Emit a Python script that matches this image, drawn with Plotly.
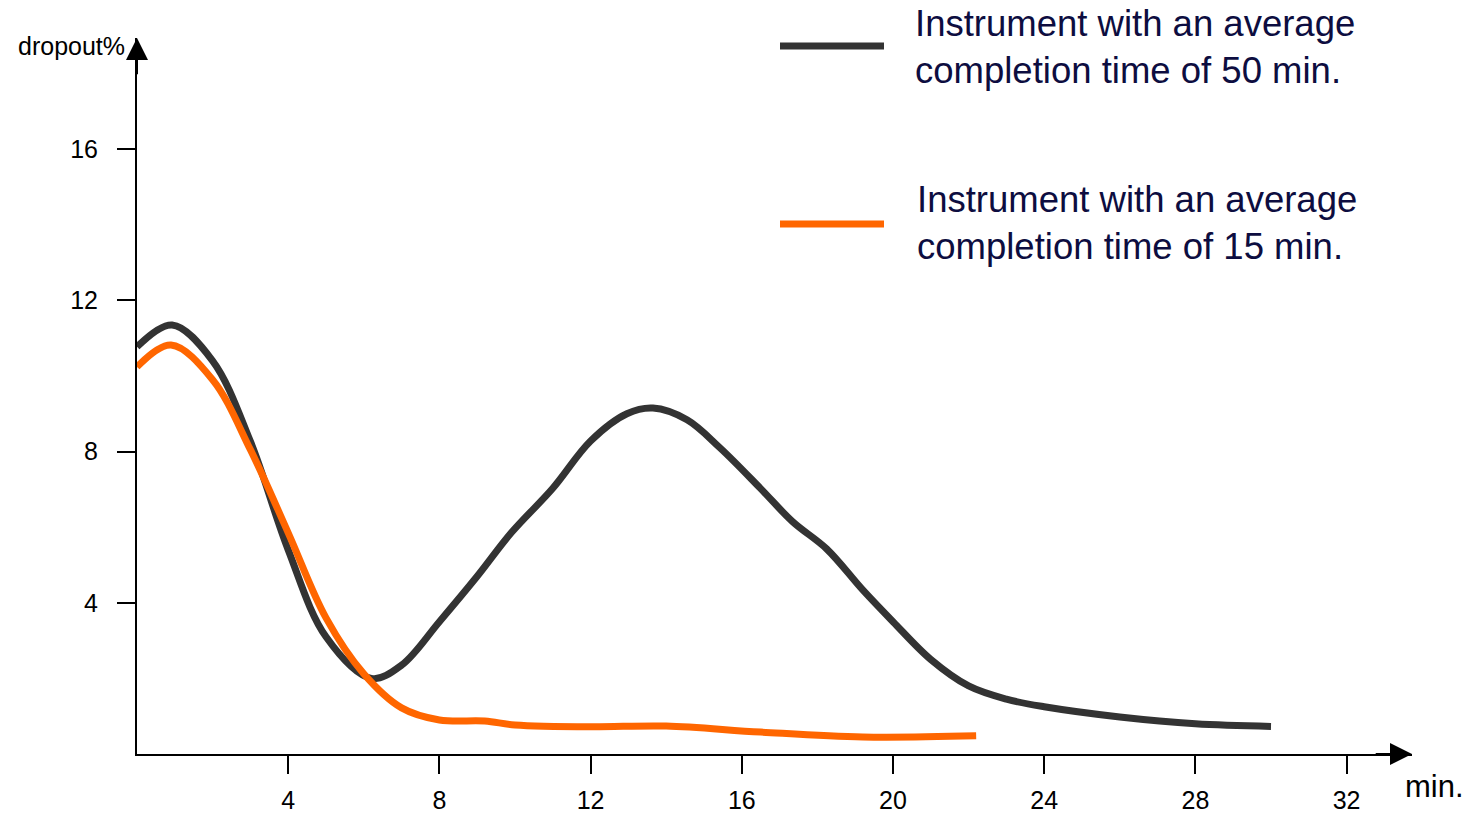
import plotly.graph_objects as go

# Data
black_x = [0, 0.93, 2.0, 3.0, 4.0, 5.0, 6.2, 7.0, 8.0, 9.0, 9.9, 11.0, 12.0, 12.96, 13.65, 14.55, 15.42,
           16.48, 17.35, 18.25, 19.2, 20.0, 21.0, 22.0, 23.0, 24.0, 26.0, 28.0, 30.0]
black_y = [10.77, 11.35, 10.4, 8.27, 5.4, 3.1, 2.0, 2.35, 3.5, 4.7, 5.85, 7.03, 8.28, 9.0, 9.15, 8.84, 8.1,
           7.04, 6.14, 5.42, 4.34, 3.5, 2.5, 1.8, 1.45, 1.25, 0.98, 0.8, 0.73]

orange_x = [0, 0.9, 2.0, 3.0, 4.0, 5.0, 6.0, 7.0, 8.0, 9.2, 10.0, 12.0, 14.0, 16.5, 19.2, 22.2]
orange_y = [10.24, 10.82, 9.9, 8.05, 5.85, 3.6, 2.12, 1.22, 0.9, 0.87, 0.77, 0.72, 0.74, 0.58, 0.45, 0.48]

x_ticks = [4, 8, 12, 16, 20, 24, 28, 32]
y_ticks = [4, 8, 12, 16]

series_names = ["Instrument with an average<br>completion time of 50 min.",
                "Instrument with an average<br>completion time of 15 min."]
colors = ["#333333", "#ff6600"]

X_MAX = 33.73
Y_MAX = 18.94
FONT = "Liberation Sans, Arial, sans-serif"

fig = go.Figure()
fig.add_trace(go.Scatter(x=black_x, y=black_y, mode="lines",
                         line=dict(color=colors[0], width=7, shape="spline", smoothing=1.0),
                         showlegend=False, name="50 min"))
fig.add_trace(go.Scatter(x=orange_x, y=orange_y, mode="lines",
                         line=dict(color=colors[1], width=7, shape="spline", smoothing=1.0),
                         showlegend=False, name="15 min"))

fig.update_layout(
    width=1470, height=815,
    margin=dict(l=137, r=58, t=38, b=61, autoexpand=False),
    paper_bgcolor="white", plot_bgcolor="white",
    font=dict(family=FONT, color="black", size=24),
    showlegend=False,
)
fig.update_xaxes(range=[0, X_MAX], showgrid=False, zeroline=False, automargin=False,
                 showline=True, linecolor="black", linewidth=2,
                 tickmode="array", tickvals=x_ticks, ticks="outside",
                 ticklen=18, tickwidth=2, tickcolor="black",
                 tickfont=dict(size=25, family=FONT, color="black"),
                 ticklabelstandoff=5)
fig.update_yaxes(range=[0, Y_MAX], showgrid=False, zeroline=False, automargin=False,
                 showline=True, linecolor="black", linewidth=2,
                 tickmode="array", tickvals=y_ticks, ticks="outside",
                 ticklen=18, tickwidth=2, tickcolor="black",
                 tickfont=dict(size=25, family=FONT, color="black"),
                 ticklabelstandoff=14)

# Axis arrowheads
fig.add_annotation(x=X_MAX, y=0, ax=X_MAX - 1.0, ay=0, xref="x", yref="y",
                   axref="x", ayref="y", text="", showarrow=True,
                   arrowhead=2, arrowsize=2.2, arrowwidth=2, arrowcolor="black", standoff=0)
fig.add_annotation(x=0, y=Y_MAX, ax=0, ay=Y_MAX - 1.0, xref="x", yref="y",
                   axref="x", ayref="y", text="", showarrow=True,
                   arrowhead=2, arrowsize=2.2, arrowwidth=2, arrowcolor="black", standoff=0)

# Axis titles
fig.add_annotation(x=127, y=815 - 46, xref="paper", yref="paper", text="dropout%",
                   showarrow=False, xanchor="right", yanchor="middle",
                   font=dict(size=25, family=FONT, color="black"))
fig.add_annotation(text="min.", showarrow=False, xanchor="left", yanchor="middle",
                   x=1403, y=815 - 786, xref="paper", yref="paper",
                   font=dict(size=31, family=FONT, color="black"))

# Custom legend
leg_y = [46, 224]
text_y = [47, 223]
for i in range(2):
    fig.add_shape(type="line", xref="paper", yref="paper",
                  x0=780, x1=884, y0=815 - leg_y[i], y1=815 - leg_y[i],
                  line=dict(color=colors[i], width=7))
    fig.add_annotation(text=series_names[i], showarrow=False, align="left",
                       xanchor="left", yanchor="middle",
                       x=913 + 2 * i, y=815 - text_y[i], xref="paper", yref="paper",
                       font=dict(size=36.5, family=FONT, color="#0d0d40"))

# convert pixel-based paper coordinates to fractions of the plot area
pw = 1470 - 137 - 58
ph = 815 - 38 - 61
for ann in fig.layout.annotations:
    if ann.xref == "paper":
        ann.x = (ann.x - 137) / pw
        ann.y = (ann.y - 61) / ph
for sh in fig.layout.shapes:
    sh.x0 = (sh.x0 - 137) / pw
    sh.x1 = (sh.x1 - 137) / pw
    sh.y0 = (sh.y0 - 61) / ph
    sh.y1 = (sh.y1 - 61) / ph

fig.write_html("out.html")
